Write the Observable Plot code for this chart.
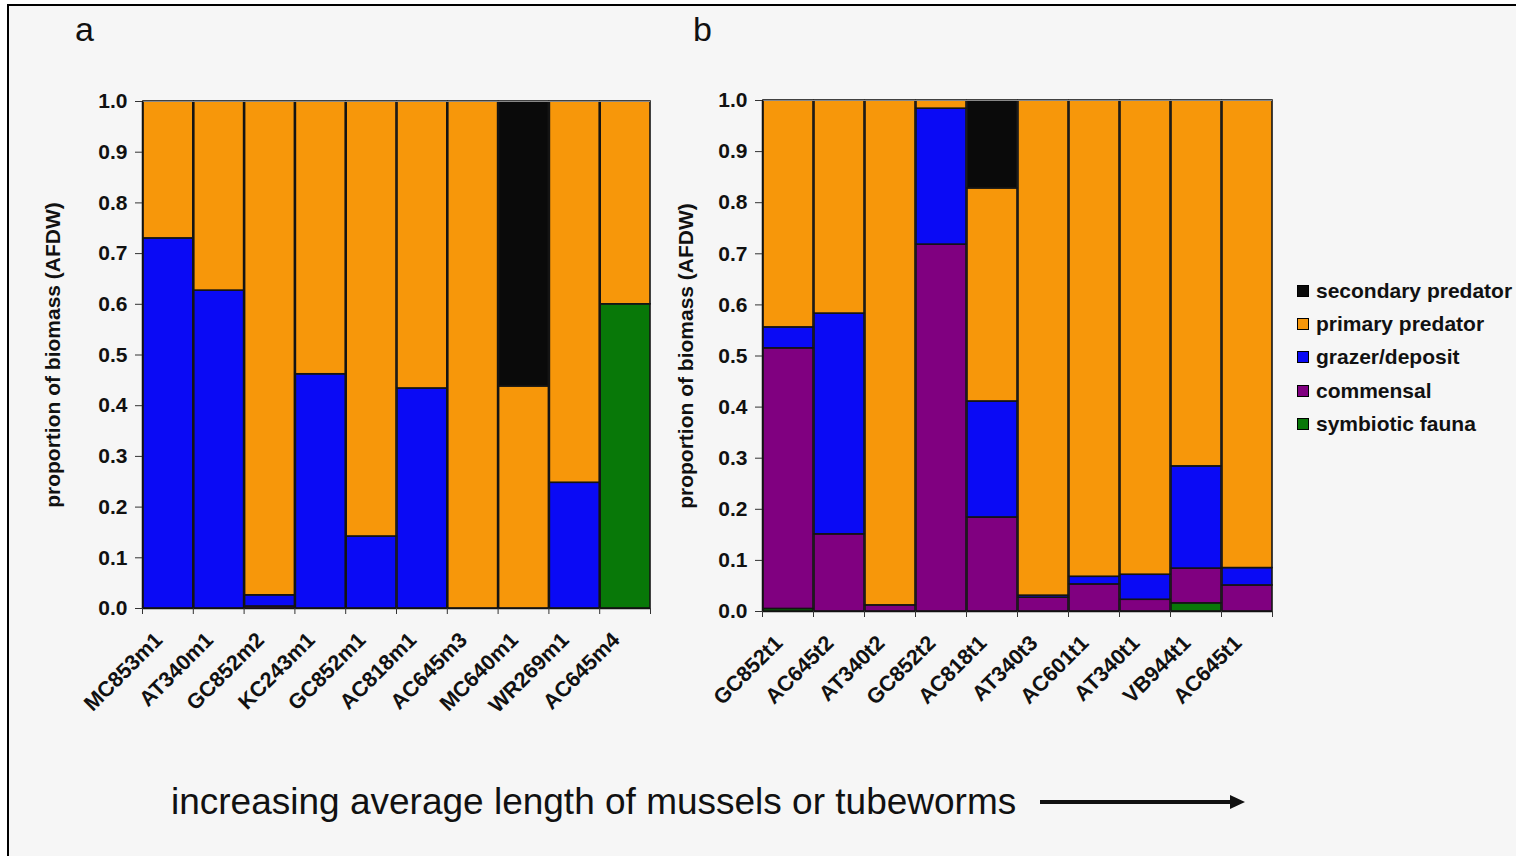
<!DOCTYPE html>
<html>
<head>
<meta charset="utf-8">
<script src="https://cdn.jsdelivr.net/npm/d3@7"></script>
<script src="https://cdn.jsdelivr.net/npm/@observablehq/plot@0.6"></script>
<style>
  html, body { margin: 0; padding: 0; background: #ffffff; overflow: hidden; width: 1516px; height: 856px; }
  body { position: relative; font-family: "Liberation Sans", Arial, sans-serif; }
  #frame { position: absolute; left: 7px; top: 4px; width: 1540px; height: 900px; border: 2.5px solid #000; background: #f6f6f6; }
  .panel { position: absolute; }
  .letter { position: absolute; font-size: 34px; color: #111; }
  #legend { position: absolute; left: 1297px; top: 274px; }
  .row { display: flex; align-items: center; height: 33.3px; font-weight: bold; font-size: 21px; color: #111; white-space: nowrap; }
  .sw { width: 10px; height: 10px; border: 1px solid #000; margin-right: 7px; }
  #caption { position: absolute; left: 171px; top: 781px; font-size: 37px; color: #111; white-space: nowrap; }
  #arrow { position: absolute; left: 1040px; top: 800px; width: 192px; height: 4px; background: #111; }
  #arrowhead { position: absolute; left: 1230px; top: 795px; width: 0; height: 0; border-top: 7px solid transparent; border-bottom: 7px solid transparent; border-left: 15px solid #111; }
</style>
</head>
<body>
<div id="frame"></div>
<div class="letter" style="left:75px; top:10px;">a</div>
<div class="letter" style="left:693px; top:10px;">b</div>
<div id="panelA" class="panel" style="left:0px; top:60px;"></div>
<div id="panelB" class="panel" style="left:620px; top:60px;"></div>
<div id="legend"></div>
<div id="caption">increasing average length of mussels or tubeworms</div>
<div id="arrow"></div>
<div id="arrowhead"></div>
<script>
// ---- data ----
const categories = ["symbiotic fauna", "commensal", "grazer/deposit", "primary predator", "secondary predator"];
const categoryColors = ["#087808", "#800080", "#0a0af5", "#f7970a", "#0a0a0a"];
const legendOrder = ["secondary predator", "primary predator", "grazer/deposit", "commensal", "symbiotic fauna"];
const yTicks = [0, 0.1, 0.2, 0.3, 0.4, 0.5, 0.6, 0.7, 0.8, 0.9, 1.0];
const yLabel = "proportion of biomass (AFDW)";

const sitesA = ["MC853m1", "AT340m1", "GC852m2", "KC243m1", "GC852m1", "AC818m1", "AC645m3", "MC640m1", "WR269m1", "AC645m4"];
const symbioticA = [0, 0, 0, 0, 0, 0, 0, 0, 0, 0.60];
const commensalA = [0, 0, 0.004, 0, 0, 0, 0, 0, 0, 0];
const grazerA    = [0.73, 0.627, 0.022, 0.462, 0.142, 0.434, 0, 0, 0.248, 0];
const primaryA   = [0.27, 0.373, 0.974, 0.538, 0.858, 0.566, 1.0, 0.438, 0.752, 0.40];
const secondaryA = [0, 0, 0, 0, 0, 0, 0, 0.562, 0, 0];

const sitesB = ["GC852t1", "AC645t2", "AT340t2", "GC852t2", "AC818t1", "AT340t3", "AC601t1", "AT340t1", "VB944t1", "AC645t1"];
const symbioticB = [0.005, 0, 0, 0, 0, 0, 0, 0, 0.016, 0];
const commensalB = [0.51, 0.151, 0.012, 0.718, 0.184, 0.027, 0.053, 0.023, 0.068, 0.051];
const grazerB    = [0.041, 0.432, 0, 0.266, 0.227, 0.004, 0.015, 0.049, 0.20, 0.034];
const primaryB   = [0.444, 0.417, 0.988, 0.016, 0.417, 0.969, 0.932, 0.928, 0.716, 0.915];
const secondaryB = [0, 0, 0, 0, 0.172, 0, 0, 0, 0, 0];

// ---- build ----
function tidy(sites, seriesList) {
  const rows = [];
  sites.forEach((s, i) => {
    seriesList.forEach((vals, k) => {
      if (vals[i] > 0) rows.push({i, site: s, cat: categories[k], v: vals[i]});
    });
  });
  return rows;
}

function panel(sites, seriesList, opts) {
  const rows = tidy(sites, seriesList);
  return Plot.plot({
    width: opts.width, height: opts.height,
    marginLeft: opts.ml, marginRight: opts.mr, marginTop: opts.mt, marginBottom: opts.mb,
    style: {background: "transparent", fontFamily: "'Liberation Sans', Arial, sans-serif", fontSize: "21px", fontWeight: "bold", color: "#111", overflow: "visible"},
    x: {domain: [0, sites.length], axis: null},
    y: {domain: [0, 1], axis: null},
    color: {domain: categories, range: categoryColors},
    marks: [
      Plot.rectY(rows, Plot.stackY({x: "i", interval: 1, y: "v", fill: "cat", order: categories, stroke: "#141414", strokeWidth: 1.6})),
      Plot.ruleY([1], {stroke: "#888", strokeWidth: 1}),
      Plot.ruleX([0], {stroke: "#111", strokeWidth: 1.5}),
      Plot.ruleY([0], {stroke: "#111", strokeWidth: 1.5}),
      Plot.axisY({ticks: yTicks, tickFormat: d3.format(".1f"), tickSize: 7, tickPadding: 8, label: null, fontWeight: "bold", fontSize: 21, stroke: "#333"}),
      Plot.axisX({ticks: d3.range(0, sites.length + 1), tickFormat: () => "", tickSize: 6, label: null, stroke: "#333"}),
      Plot.text(sites, {x: (d, i) => i + 0.5, y: () => 0, text: d => d, rotate: -45, textAnchor: "end", dx: -9, dy: 28, fontSize: 21.5, fontWeight: "bold", fill: "#111"}),
      Plot.text([yLabel], {frameAnchor: "left", textAnchor: "middle", rotate: -90, dx: -opts.labelOffset, fontSize: 21, fontWeight: "bold", fill: "#111"})
    ]
  });
}

document.getElementById("panelA").appendChild(panel(
  sitesA, [symbioticA, commensalA, grazerA, primaryA, secondaryA],
  {width: 680, height: 700, ml: 142, mr: 30, mt: 41, mb: 152, labelOffset: 89}
));
document.getElementById("panelB").appendChild(panel(
  sitesB, [symbioticB, commensalB, grazerB, primaryB, secondaryB],
  {width: 680, height: 700, ml: 142, mr: 28, mt: 40, mb: 149, labelOffset: 76}
));

const legend = document.getElementById("legend");
legendOrder.forEach(c => {
  const row = document.createElement("div");
  row.className = "row";
  const sw = document.createElement("div");
  sw.className = "sw";
  sw.style.background = categoryColors[categories.indexOf(c)];
  const t = document.createElement("span");
  t.textContent = c;
  row.appendChild(sw); row.appendChild(t);
  legend.appendChild(row);
});
</script>
</body>
</html>
